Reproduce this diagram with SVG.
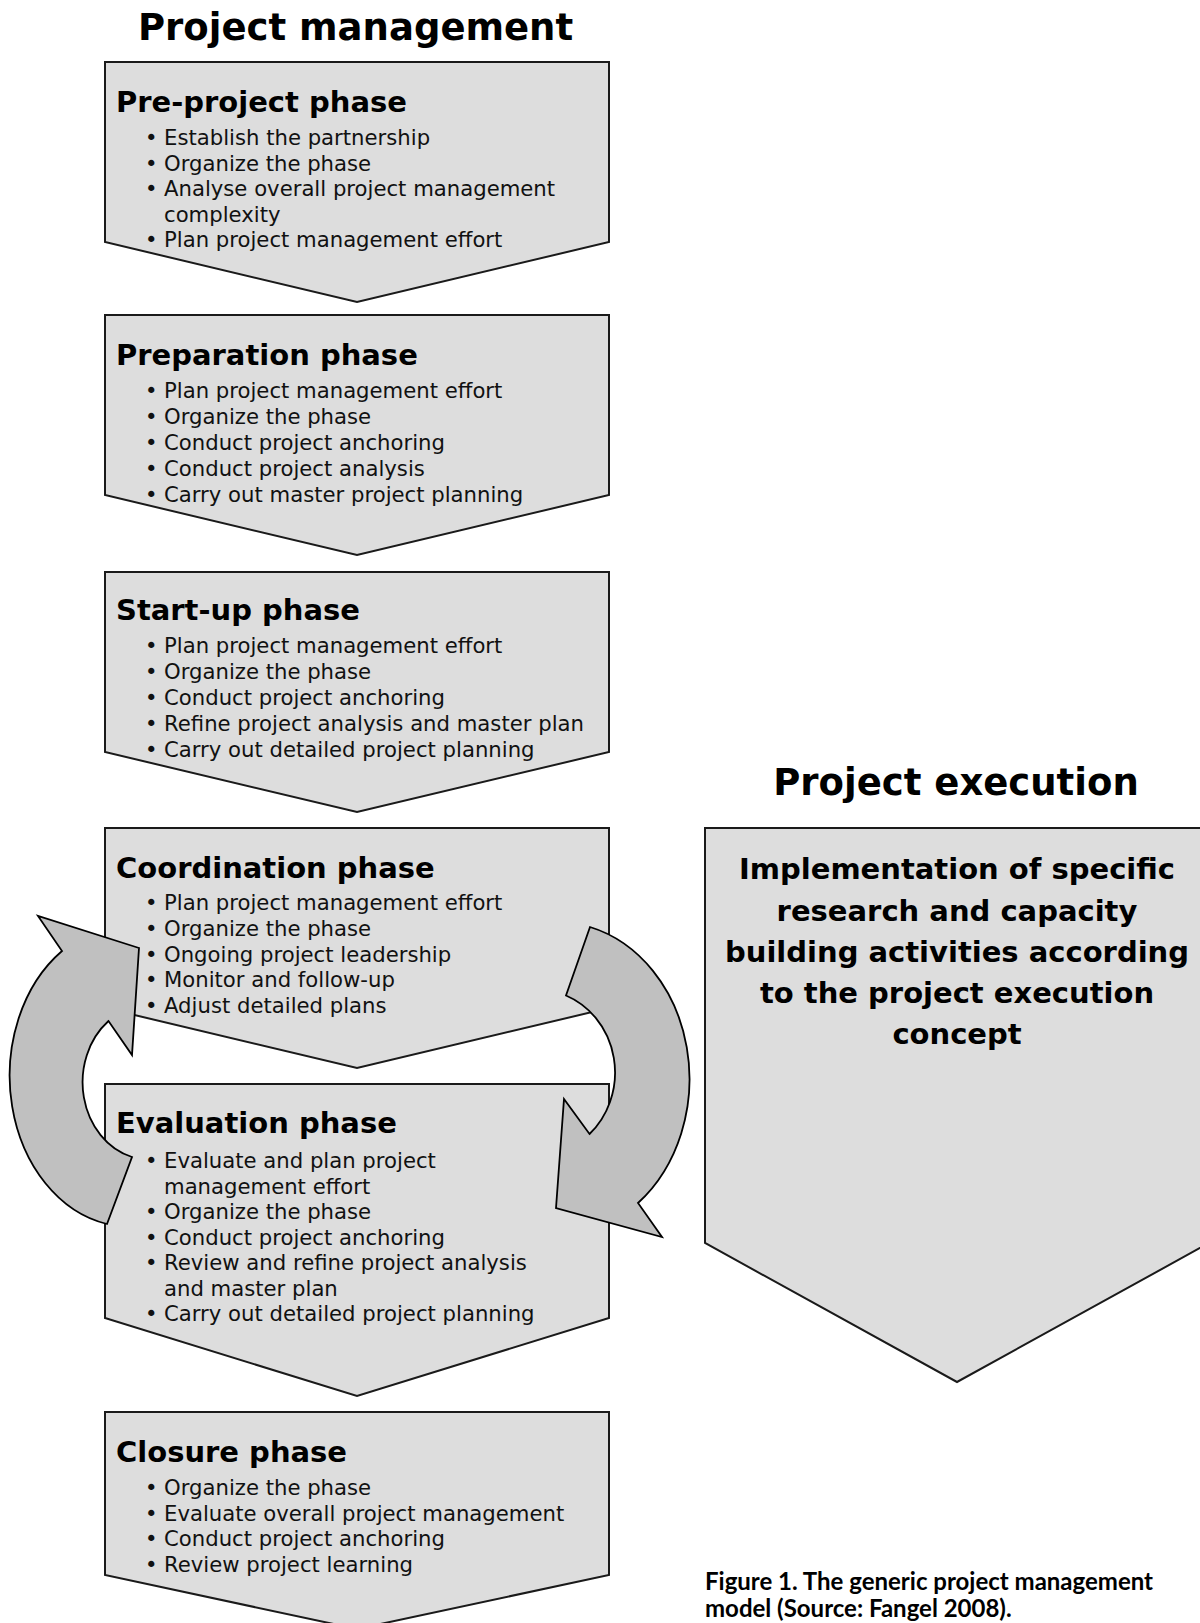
<svg xmlns="http://www.w3.org/2000/svg" width="1200" height="1623" viewBox="0 0 1200 1623">
<style>
.box{fill:#dddddd;stroke:#1a1a1a;stroke-width:2;stroke-linejoin:miter}
.arr{fill:#c0c0c0;stroke:#000;stroke-width:1.8;stroke-linejoin:miter}
.title{font-family:"DejaVu Sans",Verdana,sans-serif;font-weight:bold;font-size:37px;fill:#000}
.head{font-family:"DejaVu Sans",Verdana,sans-serif;font-weight:bold;font-size:29px;fill:#000}
.item{font-family:"DejaVu Sans",Verdana,sans-serif;font-size:21.2px;fill:#111}
.exec{font-family:"DejaVu Sans",Verdana,sans-serif;font-weight:bold;font-size:29px;fill:#000}
.cap{font-family:Lato,"Liberation Sans",sans-serif;font-weight:bold;font-size:24px;fill:#000}
</style>
<rect width="1200" height="1623" fill="#fff"/>
<text class="title" x="138" y="40">Project management</text>
<text class="title" x="956" y="795" text-anchor="middle">Project execution</text>

<g id="pre-project">
<path class="box" d="M105,62 H609 V242 L357,302 L105,242 Z"/>
<text class="head" x="116" y="112">Pre-project phase</text>
<text class="item"><tspan x="145" y="145">•</tspan><tspan x="164" y="145">Establish the partnership</tspan></text>
<text class="item"><tspan x="145" y="170.5">•</tspan><tspan x="164" y="170.5">Organize the phase</tspan></text>
<text class="item"><tspan x="145" y="196">•</tspan><tspan x="164" y="196">Analyse overall project management</tspan></text>
<text class="item" x="164" y="221.5">complexity</text>
<text class="item"><tspan x="145" y="247">•</tspan><tspan x="164" y="247">Plan project management effort</tspan></text>
</g>

<g id="preparation">
<path class="box" d="M105,315 H609 V495 L357,555 L105,495 Z"/>
<text class="head" x="116" y="365">Preparation phase</text>
<text class="item"><tspan x="145" y="398">•</tspan><tspan x="164" y="398">Plan project management effort</tspan></text>
<text class="item"><tspan x="145" y="424">•</tspan><tspan x="164" y="424">Organize the phase</tspan></text>
<text class="item"><tspan x="145" y="450">•</tspan><tspan x="164" y="450">Conduct project anchoring</tspan></text>
<text class="item"><tspan x="145" y="475.5">•</tspan><tspan x="164" y="475.5">Conduct project analysis</tspan></text>
<text class="item"><tspan x="145" y="501.5">•</tspan><tspan x="164" y="501.5">Carry out master project planning</tspan></text>
</g>

<g id="start-up">
<path class="box" d="M105,572 H609 V752 L357,812 L105,752 Z"/>
<text class="head" x="116" y="620">Start-up phase</text>
<text class="item"><tspan x="145" y="653">•</tspan><tspan x="164" y="653">Plan project management effort</tspan></text>
<text class="item"><tspan x="145" y="679">•</tspan><tspan x="164" y="679">Organize the phase</tspan></text>
<text class="item"><tspan x="145" y="705">•</tspan><tspan x="164" y="705">Conduct project anchoring</tspan></text>
<text class="item"><tspan x="145" y="731">•</tspan><tspan x="164" y="731">Refine project analysis and master plan</tspan></text>
<text class="item"><tspan x="145" y="757">•</tspan><tspan x="164" y="757">Carry out detailed project planning</tspan></text>
</g>

<g id="coordination">
<path class="box" d="M105,828 H609 V1008 L357,1068 L105,1008 Z"/>
<text class="head" x="116" y="878">Coordination phase</text>
<text class="item"><tspan x="145" y="910">•</tspan><tspan x="164" y="910">Plan project management effort</tspan></text>
<text class="item"><tspan x="145" y="936">•</tspan><tspan x="164" y="936">Organize the phase</tspan></text>
<text class="item"><tspan x="145" y="961.5">•</tspan><tspan x="164" y="961.5">Ongoing project leadership</tspan></text>
<text class="item"><tspan x="145" y="987">•</tspan><tspan x="164" y="987">Monitor and follow-up</tspan></text>
<text class="item"><tspan x="145" y="1013">•</tspan><tspan x="164" y="1013">Adjust detailed plans</tspan></text>
</g>

<g id="evaluation">
<path class="box" d="M105,1084 H609 V1318 L357,1396 L105,1318 Z"/>
<text class="head" x="116" y="1133">Evaluation phase</text>
<text class="item"><tspan x="145" y="1168">•</tspan><tspan x="164" y="1168">Evaluate and plan project</tspan></text>
<text class="item" x="164" y="1193.5">management effort</text>
<text class="item"><tspan x="145" y="1219">•</tspan><tspan x="164" y="1219">Organize the phase</tspan></text>
<text class="item"><tspan x="145" y="1244.5">•</tspan><tspan x="164" y="1244.5">Conduct project anchoring</tspan></text>
<text class="item"><tspan x="145" y="1270">•</tspan><tspan x="164" y="1270">Review and refine project analysis</tspan></text>
<text class="item" x="164" y="1295.5">and master plan</text>
<text class="item"><tspan x="145" y="1321">•</tspan><tspan x="164" y="1321">Carry out detailed project planning</tspan></text>
</g>

<g id="closure">
<path class="box" d="M105,1412 H609 V1575 L357,1629 L105,1575 Z"/>
<text class="head" x="116" y="1462">Closure phase</text>
<text class="item"><tspan x="145" y="1495">•</tspan><tspan x="164" y="1495">Organize the phase</tspan></text>
<text class="item"><tspan x="145" y="1520.5">•</tspan><tspan x="164" y="1520.5">Evaluate overall project management</tspan></text>
<text class="item"><tspan x="145" y="1546">•</tspan><tspan x="164" y="1546">Conduct project anchoring</tspan></text>
<text class="item"><tspan x="145" y="1571.5">•</tspan><tspan x="164" y="1571.5">Review project learning</tspan></text>
</g>

<g id="execution">
<path class="box" d="M705,828 H1209 V1243 L957,1382 L705,1243 Z"/>
<text class="exec" text-anchor="middle" x="957" y="879">Implementation of specific</text>
<text class="exec" text-anchor="middle" x="957" y="921">research and capacity</text>
<text class="exec" text-anchor="middle" x="957" y="962">building activities according</text>
<text class="exec" text-anchor="middle" x="957" y="1003">to the project execution</text>
<text class="exec" text-anchor="middle" x="957" y="1044">concept</text>
</g>

<g id="connectors">
<path id="loop-back" class="arr" d="M139,948 L38,916 L62,951 A120,151 0 0 0 107,1224 L132,1157 A67,77.5 0 0 1 108.5,1021 L132,1055 Z"/>
<path id="loop-forward" class="arr" d="M590,927 A133,157 0 0 1 638,1203 L662,1237 L556,1208 L564,1099 L589.5,1134 A78,83 0 0 0 566,995.5 Z"/>
</g>

<g id="caption">
<text class="cap" x="705" y="1590">Figure 1. The generic project management</text>
<text class="cap" x="705" y="1617">model (Source: Fangel 2008).</text>
</g>
</svg>
